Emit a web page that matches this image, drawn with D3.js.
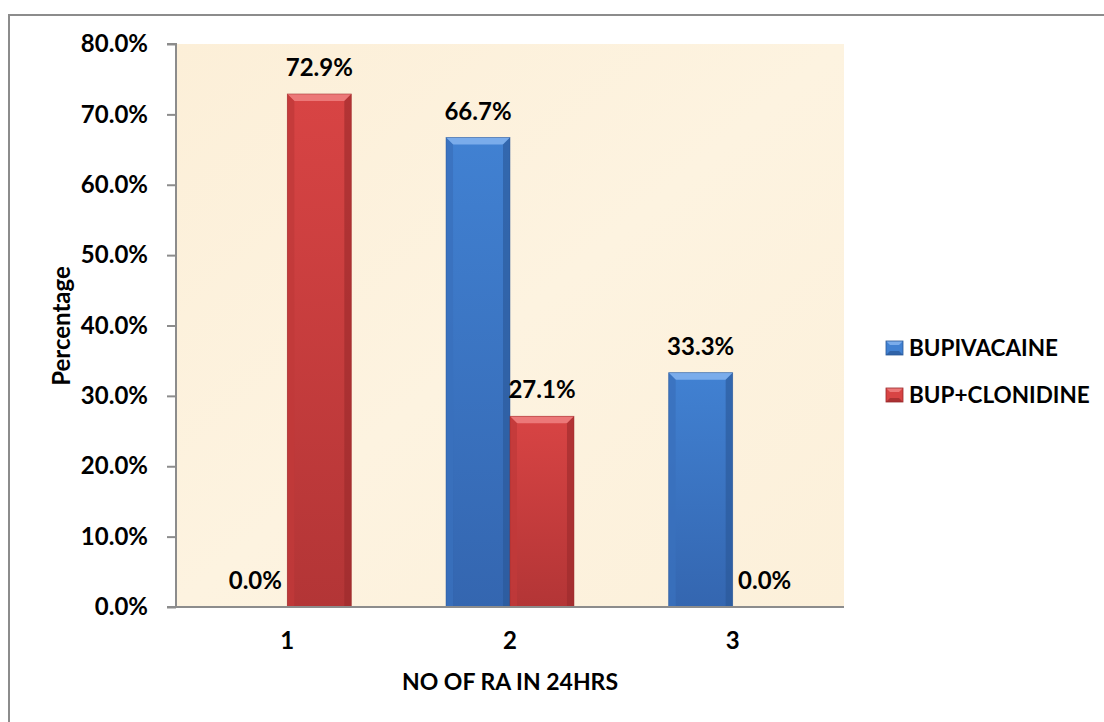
<!DOCTYPE html>
<html><head><meta charset="utf-8">
<script src="https://cdn.jsdelivr.net/npm/d3@7"></script>
<style>
html,body{margin:0;padding:0;background:#fff;}
svg{display:block;}
text{font-family:Lato,"Open Sans",sans-serif;font-weight:bold;fill:#000;}
</style></head>
<body>
<svg id="chart" width="1104" height="722"></svg>
<script>
const categories = ["1", "2", "3"];
const seriesNames = ["BUPIVACAINE", "BUP+CLONIDINE"];
const bupivacaine = [0.0, 66.7, 33.3];
const bupClonidine = [72.9, 27.1, 0.0];
const yTicks = [0, 10, 20, 30, 40, 50, 60, 70, 80];
const xTitle = "NO OF RA IN 24HRS";
const yTitle = "Percentage";

const svg = d3.select("#chart");
const W = 1104, H = 722;
const plot = {left: 176, right: 844, top: 44, bottom: 607};

const defs = svg.append("defs");
const bg = defs.append("linearGradient").attr("id","bgGrad").attr("x1",0).attr("y1",0).attr("x2",1).attr("y2",1);
bg.append("stop").attr("offset","0%").attr("stop-color","#fcefd8");
bg.append("stop").attr("offset","50%").attr("stop-color","#fdf3e0");
bg.append("stop").attr("offset","100%").attr("stop-color","#fcf0da");

const palettes = [
  {mid:"#4181d2", bot:"#3466b0", side:"#3a70bd", light:"#7aaceb", dark:"#2a5796"},
  {mid:"#d84444", bot:"#b33536", side:"#c03a3a", light:"#ec7878", dark:"#99292b"}
];
palettes.forEach((p,i)=>{
  const g = defs.append("linearGradient").attr("id","barGrad"+i).attr("x1",0).attr("y1",0).attr("x2",0).attr("y2",1);
  g.append("stop").attr("offset","0%").attr("stop-color",p.mid);
  g.append("stop").attr("offset","100%").attr("stop-color",p.bot);
});

// outer border
svg.append("rect").attr("x",9).attr("y",15).attr("width",W+20).attr("height",H+20)
  .attr("fill","none").attr("stroke","#8c8c8c").attr("stroke-width",2);

// plot background
svg.append("rect").attr("x",plot.left).attr("y",plot.top)
  .attr("width",plot.right-plot.left).attr("height",plot.bottom-plot.top)
  .attr("fill","url(#bgGrad)");

const x0 = d3.scaleBand().domain(categories).range([plot.left, plot.right]).paddingInner(0).paddingOuter(0);
const x1 = d3.scaleBand().domain(seriesNames).range([0, x0.bandwidth()]).paddingInner(0).paddingOuter(0.74);
const y = d3.scaleLinear().domain([0, 80]).range([plot.bottom, plot.top]);

// y axis
const yAxis = svg.append("g").attr("transform",`translate(${plot.left},0)`)
  .call(d3.axisLeft(y).tickValues(yTicks).tickSize(9).tickPadding(19).tickFormat(d=>d.toFixed(1)+"%"));
yAxis.select(".domain").attr("stroke","#8c8c8c").attr("stroke-width",2).attr("d",`M-9,${plot.top}H0V${plot.bottom}`);
yAxis.selectAll(".tick line").attr("stroke","#8c8c8c").attr("stroke-width",2);
yAxis.selectAll(".tick text").style("font-size","24px").style("font-family","Lato").style("font-weight","bold").attr("fill","#000");

const allSeries = [bupivacaine, bupClonidine];

function drawBar(g, bx, bw, by, bh, p, gi){
  if (bh <= 0) return;
  g.append("rect").attr("x",bx).attr("y",by).attr("width",bw).attr("height",bh).attr("fill",`url(#barGrad${gi})`);
  const b = Math.min(7, bh/2);
  g.append("path").attr("d",`M${bx},${by}H${bx+bw}L${bx+bw-b},${by+b}H${bx+b}Z`).attr("fill",p.light);
  g.append("path").attr("d",`M${bx},${by}L${bx+b},${by+b}V${by+bh}H${bx}Z`).attr("fill",p.side).attr("opacity",0.8);
  g.append("path").attr("d",`M${bx+bw},${by}L${bx+bw-b},${by+b}V${by+bh}H${bx+bw}Z`).attr("fill",p.dark).attr("opacity",0.6);
  g.append("rect").attr("x",bx).attr("y",by).attr("width",bw).attr("height",bh).attr("fill","none").attr("stroke",p.dark).attr("stroke-width",0.8).attr("opacity",0.6);
}

const barsG = svg.append("g");
categories.forEach((c,ci)=>{
  seriesNames.forEach((s,si)=>{
    const v = allSeries[si][ci];
    const bx = x0(c)+x1(s), bw = x1.bandwidth();
    drawBar(barsG, bx, bw, y(v), y(0)-y(v), palettes[si], si);
  });
});

// x axis line
svg.append("line").attr("x1",plot.left-9).attr("x2",plot.right).attr("y1",plot.bottom).attr("y2",plot.bottom)
  .attr("stroke","#8c8c8c").attr("stroke-width",2);

// value labels
categories.forEach((c,ci)=>{
  seriesNames.forEach((s,si)=>{
    const v = allSeries[si][ci];
    svg.append("text").attr("x",x0(c)+x1(s)+x1.bandwidth()/2).attr("y",y(v)-18)
      .attr("text-anchor","middle").style("font-size","24px").text(v.toFixed(1)+"%");
  });
});

// category labels
categories.forEach(c=>{
  svg.append("text").attr("x",x0(c)+x0.bandwidth()/2).attr("y",649).attr("text-anchor","middle")
    .style("font-size","24px").text(c);
});

// axis titles
svg.append("text").attr("x",(plot.left+plot.right)/2).attr("y",690).attr("text-anchor","middle")
  .style("font-size","23px").text(xTitle);
svg.append("text").attr("transform","translate(70,326) rotate(-90)").attr("text-anchor","middle")
  .style("font-size","24px").text(yTitle);

// legend
const leg = svg.append("g");
seriesNames.forEach((s,si)=>{
  const cy = 348 + si*47;
  const p = palettes[si];
  const lx = 886, lw = 17, lh = 14, ly = cy-7;
  leg.append("rect").attr("x",lx).attr("y",ly).attr("width",lw).attr("height",lh).attr("fill",p.mid);
  leg.append("path").attr("d",`M${lx},${ly}H${lx+lw}L${lx+lw-4},${ly+4}H${lx+4}Z`).attr("fill",p.light);
  leg.append("path").attr("d",`M${lx},${ly+lh}H${lx+lw}L${lx+lw-4},${ly+lh-4}H${lx+4}Z`).attr("fill",p.dark).attr("opacity",0.7);
  leg.append("rect").attr("x",lx).attr("y",ly).attr("width",lw).attr("height",lh).attr("fill","none").attr("stroke",p.dark).attr("stroke-width",0.8);
  leg.append("text").attr("x",909).attr("y",cy+8).style("font-size","22.5px").text(s);
});
</script>
</body></html>
